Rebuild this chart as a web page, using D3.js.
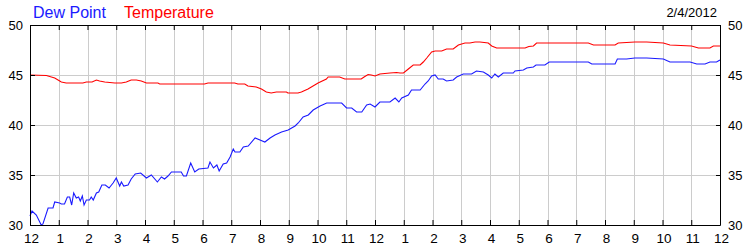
<!DOCTYPE html>
<html><head><meta charset="utf-8">
<script src="https://cdn.jsdelivr.net/npm/d3@7"></script>
<style>
html,body{margin:0;padding:0;background:#fff;}
svg{display:block;font-family:"Liberation Sans",Arial,sans-serif;}
</style></head>
<body><svg id="c" width="750" height="250"></svg>
<script>
const hourLabels = ["12","1","2","3","4","5","6","7","8","9","10","11","12","1","2","3","4","5","6","7","8","9","10","11","12"];
const yTicks = [30,35,40,45,50];
const seriesNames = ["Dew Point","Temperature"];
const dateLabel = "2/4/2012";

const dewHours = [0,0.07,0.22,0.39,0.45,0.63,0.8,0.86,1.03,1.09,1.2,1.3,1.38,1.45,1.52,1.61,1.69,1.75,1.82,1.88,1.96,2.07,2.13,2.2,2.31,2.39,2.5,2.62,2.75,2.89,3.0,3.12,3.18,3.26,3.41,3.52,3.66,3.85,4.05,4.22,4.43,4.57,4.68,4.8,4.92,5.26,5.34,5.44,5.59,5.73,5.87,6.19,6.26,6.38,6.5,6.58,6.72,6.84,6.96,7.07,7.13,7.3,7.42,7.59,7.83,8.0,8.17,8.35,8.52,8.75,8.98,9.22,9.33,9.5,9.68,9.85,10.09,10.32,10.84,11.01,11.19,11.36,11.54,11.71,11.83,12.0,12.17,12.52,12.7,12.83,12.93,13.16,13.27,13.57,13.74,13.85,13.97,14.09,14.2,14.37,14.49,14.72,14.84,15.07,15.36,15.53,15.77,15.94,16.06,16.17,16.29,16.46,16.81,16.87,17.16,17.28,17.51,17.6,17.91,18.06,19.42,19.54,20.35,20.43,20.75,21.04,21.45,22.03,22.26,22.96,23.19,23.48,23.65,23.88,24];
const dewValues = [30.9,31.4,31.0,30.0,30.1,31.7,31.7,32.3,32.2,32.1,32.1,32.8,32.8,32.0,33.2,32.7,32.8,32.4,32.9,32.0,32.5,32.5,32.8,32.5,33.2,33.3,34.0,34.0,33.7,34.2,34.7,33.9,34.3,33.9,34.0,34.6,35.1,35.2,34.7,35.0,34.3,34.8,34.6,34.9,35.3,35.3,34.9,34.9,36.2,35.3,35.6,35.7,36.3,35.7,36.0,35.4,36.1,36.2,36.8,37.6,37.3,37.3,37.8,37.9,38.7,38.5,38.3,38.7,39.0,39.3,39.5,39.9,40.2,40.8,41.0,41.5,41.9,42.2,42.2,41.7,41.7,41.3,41.3,42.0,42.1,41.8,42.3,42.3,42.7,42.3,42.7,43.0,43.5,43.5,44.1,44.4,44.9,45.0,44.6,44.6,44.4,44.5,44.8,45.1,45.1,45.4,45.3,45.0,44.7,45.1,44.8,45.2,45.2,45.4,45.5,45.7,45.8,46.0,46.0,46.3,46.3,46.1,46.1,46.6,46.6,46.7,46.7,46.6,46.3,46.3,46.1,46.1,46.3,46.3,46.5];

const tempHours = [0,0.57,0.86,1.09,1.26,1.84,1.96,2.16,2.31,2.42,2.6,2.95,3.18,3.35,3.52,3.7,3.87,4.05,4.45,4.51,6.07,6.19,7.12,7.23,7.47,7.58,7.87,8.05,8.22,8.39,8.57,8.92,8.97,9.32,9.44,9.67,10.02,10.31,10.37,10.77,10.95,11.52,11.62,11.76,11.87,12.0,12.17,12.52,12.75,12.87,12.99,13.16,13.33,13.57,13.68,13.8,13.97,14.09,14.32,14.49,14.72,14.9,15.13,15.3,15.48,15.65,15.94,16.06,16.23,17.22,17.35,17.51,17.62,19.42,19.6,20.35,20.46,21.04,21.45,22.03,22.26,23.01,23.25,23.65,23.77,24];
const tempValues = [45.0,44.95,44.7,44.3,44.2,44.2,44.3,44.3,44.5,44.4,44.3,44.2,44.2,44.3,44.5,44.5,44.4,44.2,44.2,44.1,44.1,44.2,44.2,44.1,44.1,43.9,43.8,43.6,43.3,43.2,43.3,43.3,43.2,43.2,43.3,43.6,44.2,44.6,44.8,44.8,44.6,44.6,44.8,45.05,45.0,44.9,45.1,45.2,45.25,45.2,45.2,45.6,46.0,46.0,46.3,46.7,47.3,47.4,47.4,47.6,47.6,48.0,48.2,48.2,48.3,48.3,48.2,47.9,47.7,47.7,47.85,47.9,48.2,48.2,48.0,48.0,48.2,48.3,48.3,48.2,48.0,47.9,47.7,47.7,47.9,47.9];

const svg = d3.select("#c");
const x = d3.scaleLinear().domain([0,24]).range([30,720]);
const y = d3.scaleLinear().domain([30,50]).range([225,25]);

// grid
const grid = svg.append("g").attr("stroke","#cccccc").attr("stroke-width",1);
grid.selectAll("line.v").data(d3.range(1,24)).join("line")
  .attr("x1",d=>Math.round(x(d))+0.5).attr("x2",d=>Math.round(x(d))+0.5)
  .attr("y1",y(50)).attr("y2",y(30));
grid.selectAll("line.h").data(yTicks.slice(1,-1)).join("line")
  .attr("x1",x(0)).attr("x2",x(24))
  .attr("y1",d=>Math.round(y(d))+0.5).attr("y2",d=>Math.round(y(d))+0.5);

// lines
const line = d3.line().x(d=>x(d[0])).y(d=>y(d[1]));
svg.append("path").datum(tempHours.map((h,i)=>[h,tempValues[i]]))
  .attr("d",line).attr("fill","none").attr("stroke","#ff0000").attr("stroke-width",1.1);
svg.append("path").datum(dewHours.map((h,i)=>[h,dewValues[i]]))
  .attr("d",line).attr("fill","none").attr("stroke","#1a1aff").attr("stroke-width",1.1);

// axes
function styleAxis(g){
  g.selectAll(".domain").attr("stroke","#000");
  g.selectAll(".tick line").attr("stroke","#000");
  g.selectAll("text").attr("fill","#000").attr("font-family","'Liberation Sans',Arial,sans-serif");
}
svg.append("g").attr("transform",`translate(0,${y(30)})`)
  .call(d3.axisBottom(x).tickValues(d3.range(25)).tickFormat(i=>hourLabels[i]).tickSizeInner(-5).tickSizeOuter(0).tickPadding(8))
  .call(styleAxis).call(g=>g.selectAll("text").attr("font-size","13.5px").attr("dx","1"));
svg.append("g").attr("transform",`translate(0,${y(50)})`)
  .call(d3.axisTop(x).tickValues(d3.range(25)).tickFormat("").tickSizeInner(-5).tickSizeOuter(0))
  .call(styleAxis);
svg.append("g").attr("transform",`translate(${x(0)},0)`)
  .call(d3.axisLeft(y).tickValues(yTicks).tickSizeInner(-5).tickSizeOuter(0).tickPadding(7))
  .call(styleAxis).call(g=>g.selectAll("text").attr("font-size","13px"));
svg.append("g").attr("transform",`translate(${x(24)},0)`)
  .call(d3.axisRight(y).tickValues(yTicks).tickSizeInner(-4).tickSizeOuter(0).tickPadding(8))
  .call(styleAxis).call(g=>g.selectAll("text").attr("font-size","13px"));

// legend
svg.append("text").attr("x",33).attr("y",18).attr("font-size","16px").attr("fill","#1a1aff").text(seriesNames[0]);
svg.append("text").attr("x",124).attr("y",18).attr("font-size","16px").attr("fill","#ff0000").text(seriesNames[1]);
svg.append("text").attr("x",717).attr("y",17).attr("font-size","13px").attr("text-anchor","end").attr("fill","#000").text(dateLabel);
</script></body></html>
